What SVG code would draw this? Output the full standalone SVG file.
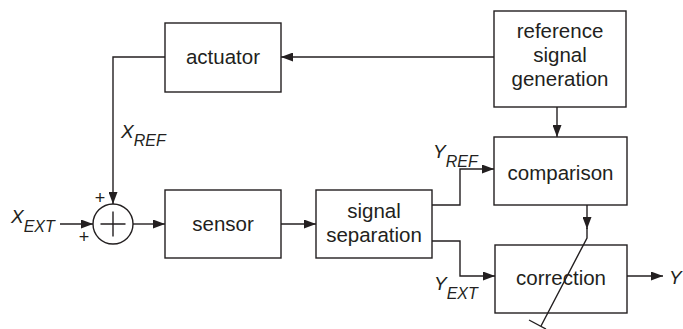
<svg xmlns="http://www.w3.org/2000/svg" width="683" height="329" viewBox="0 0 683 329">
<defs>
<marker id="ah" markerUnits="userSpaceOnUse" markerWidth="12" markerHeight="9" refX="12" refY="4.5" orient="auto">
<path d="M0,0 L12,4.5 L0,9 Z" fill="#231f20"/>
</marker>
<style>
.box{fill:#fff;stroke:#231f20;stroke-width:1.4}
.ln{fill:none;stroke:#231f20;stroke-width:1.4}
.t{font-family:"Liberation Sans",Arial,sans-serif;font-size:20.5px;fill:#231f20;text-anchor:middle}
.v{font-family:"Liberation Sans",Arial,sans-serif;font-style:italic;font-size:19px;fill:#231f20}
.s{font-size:16px}
.p{font-family:"Liberation Sans",Arial,sans-serif;font-size:18px;fill:#231f20;text-anchor:middle}
</style>
</defs>
<rect width="683" height="329" fill="#fff"/>
<g id="actuator"><rect class="box" x="165" y="23" width="116" height="69"/><text class="t" x="223" y="64">actuator</text></g>
<g id="refgen"><rect class="box" x="494" y="11" width="132" height="96"/><text class="t" x="560" y="38">reference</text><text class="t" x="560" y="62">signal</text><text class="t" x="560" y="86">generation</text></g>
<g id="sum"><circle class="box" cx="113" cy="224" r="20"/><path class="ln" d="M100.5,224 H125.5 M113,211.5 V236.5"/><text class="p" x="100" y="204">+</text><text class="p" x="84" y="243">+</text></g>
<g id="sensor"><rect class="box" x="165" y="190" width="116" height="68"/><text class="t" x="223" y="231">sensor</text></g>
<g id="separation"><rect class="box" x="316" y="190" width="116" height="68"/><text class="t" x="374" y="218">signal</text><text class="t" x="374" y="242">separation</text></g>
<g id="comparison"><rect class="box" x="494" y="137" width="133" height="68"/><text class="t" x="560.5" y="180">comparison</text></g>
<g id="correction"><rect class="box" x="495" y="245" width="132" height="68"/><text class="t" x="561" y="285">correction</text></g>
<g id="connectors">
<path class="ln" d="M494,57 H281" marker-end="url(#ah)"/>
<path class="ln" d="M165,57 H113 V204" marker-end="url(#ah)"/>
<path class="ln" d="M60,224 H93" marker-end="url(#ah)"/>
<path class="ln" d="M133,224 H165" marker-end="url(#ah)"/>
<path class="ln" d="M281,224 H316" marker-end="url(#ah)"/>
<path class="ln" d="M432,205 H460 V169 H494" marker-end="url(#ah)"/>
<path class="ln" d="M432,241 H460 V276 H495" marker-end="url(#ah)"/>
<path class="ln" d="M557,107 V137" marker-end="url(#ah)"/>
<path class="ln" d="M627,276 H663" marker-end="url(#ah)"/>
<path class="ln" d="M587,205 V229" marker-end="url(#ah)"/>
<path class="ln" d="M587,228 V238 L541,326"/>
<path class="ln" d="M529,320 L546,329"/>
</g>
<g id="labels">
<text class="v" x="11" y="223">X<tspan class="s" dy="9">EXT</tspan></text>
<text class="v" x="121" y="138">X<tspan class="s" dy="8">REF</tspan></text>
<text class="v" x="433" y="158">Y<tspan class="s" dy="9">REF</tspan></text>
<text class="v" x="434" y="290">Y<tspan class="s" dy="9">EXT</tspan></text>
<text class="v" x="669" y="284">Y</text>
</g>
</svg>
